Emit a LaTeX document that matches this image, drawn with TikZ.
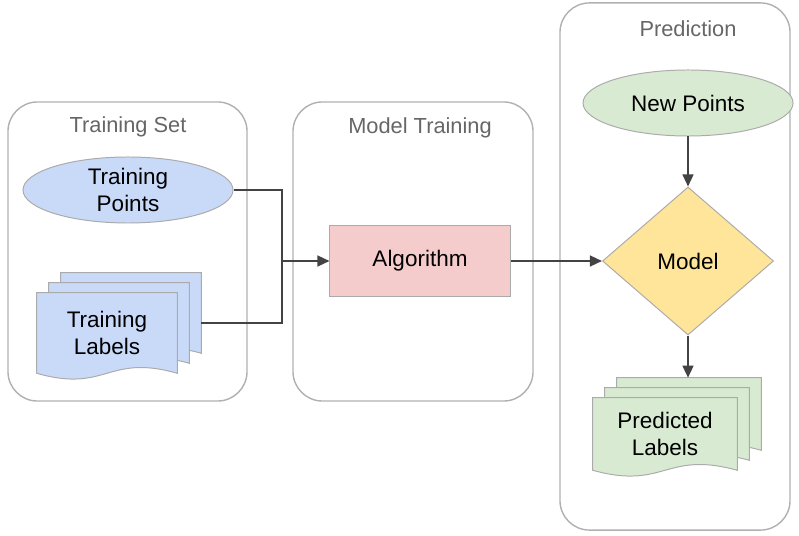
\documentclass[tikz,border=0pt]{standalone}
\usepackage{fontspec}
\setmainfont{Liberation Sans}
\usetikzlibrary{arrows.meta,positioning,shapes.geometric,calc,backgrounds}
\definecolor{panelgray}{HTML}{B0B0B0}
\definecolor{edgegray}{HTML}{ABABAB}
\definecolor{titlegray}{HTML}{666666}
\definecolor{linedark}{HTML}{434343}
\definecolor{softblue}{HTML}{C9DAF8}
\definecolor{softred}{HTML}{F4CCCC}
\definecolor{softyellow}{HTML}{FFE599}
\definecolor{softgreen}{HTML}{D9EAD3}
\tikzset{
  panel/.style={rectangle,rounded corners=21pt,draw=panelgray,line width=1pt},
  paneltitle/.style={font=\fontsize{15.5}{19}\selectfont,text=titlegray},
  body/.style={font=\fontsize{16}{19}\selectfont,align=center,draw=edgegray,line width=0.7pt},
  oval/.style={body,ellipse,minimum width=5.25cm,minimum height=1.65cm,inner sep=0pt},
  page/.style={rectangle,draw=none,align=center,font=\fontsize{16}{19}\selectfont,inner sep=0pt},
  pageline/.style={draw=edgegray,line width=0.7pt},
  flowline/.style={draw=linedark,line width=1.4pt},
  arrow/.style={flowline,-{Triangle[length=3mm,width=2.7mm]}}
}
% page with a wavy foot, drawn from a page node
\newcommand{\pageoutline}[2]{%
  \draw[pageline,fill=#2] (#1.north west) -- (#1.north east) -- (#1.south east)
    .. controls ($(#1.south)+(0,-20)$) and ($(#1.south)+(0,20)$) .. (#1.south west) -- cycle;}

\begin{document}
\begin{tikzpicture}[x=0.025cm,y=-0.025cm]
  \useasboundingbox (0,0) rectangle (799,536);

  % panels
  \node[panel,minimum width=5.975cm,minimum height=7.475cm] (tsbox) at (127.5,251.5) {};
  \node[panel,minimum width=6cm,minimum height=7.475cm] (mtbox) at (413,251.5) {};
  \node[panel,minimum width=5.75cm,minimum height=13.175cm] (prbox) at (675,266.5) {};
  \node[paneltitle] (tstitle) at ($(tsbox.north)+(0.5,26)$) {Training Set};
  \node[paneltitle] (mttitle) at ($(mtbox.north)+(7,27)$) {Model Training};
  \node[paneltitle] (prtitle) at ($(prbox.north)+(13,26)$) {Prediction};

  % training set
  \node[oval,fill=softblue] (tpoints) at (128,190) {Training\\Points};
  \node[page,minimum width=3.5cm,minimum height=2cm] (tlback) at (131,313) {};
  \node[page,minimum width=3.5cm,minimum height=2cm] (tlmid) at (119,323) {};
  \node[page,minimum width=3.5cm,minimum height=2cm] (tlabels) at (107,333) {Training\\Labels};

  % model training
  \node[body,rectangle,fill=softred,minimum width=4.5cm,minimum height=1.75cm] (algo) at (420,261) {Algorithm};
  \coordinate (merge) at (282,261);

  % prediction
  \node[oval,fill=softgreen] (newpts) at (688,103) {New Points};
  \node[body,diamond,fill=softyellow,minimum width=4.275cm,minimum height=3.7cm,inner sep=0pt] (model) at (688,261) {Model};
  \node[page,minimum width=3.6cm,minimum height=1.8cm] (plback) at (689,414) {};
  \node[page,minimum width=3.6cm,minimum height=1.8cm] (plmid) at (677,424) {};
  \node[page,minimum width=3.6cm,minimum height=1.8cm] (plabels) at (665,434) {Predicted\\Labels};

  \begin{pgfonlayer}{background}
    \pageoutline{tlback}{softblue}
    \pageoutline{tlmid}{softblue}
    \pageoutline{tlabels}{softblue}
    \pageoutline{plback}{softgreen}
    \pageoutline{plmid}{softgreen}
    \pageoutline{plabels}{softgreen}
  \end{pgfonlayer}

  % connectors
  \draw[flowline] (tpoints.east) -| (merge);
  \draw[arrow] (tlback.east |- tlmid) -| (merge) -- (algo.west);
  \draw[arrow] (algo) -- (model);
  \draw[arrow] (newpts) -- (model);
  \draw[arrow] (model) -- (model |- plback.north);
\end{tikzpicture}
\end{document}
